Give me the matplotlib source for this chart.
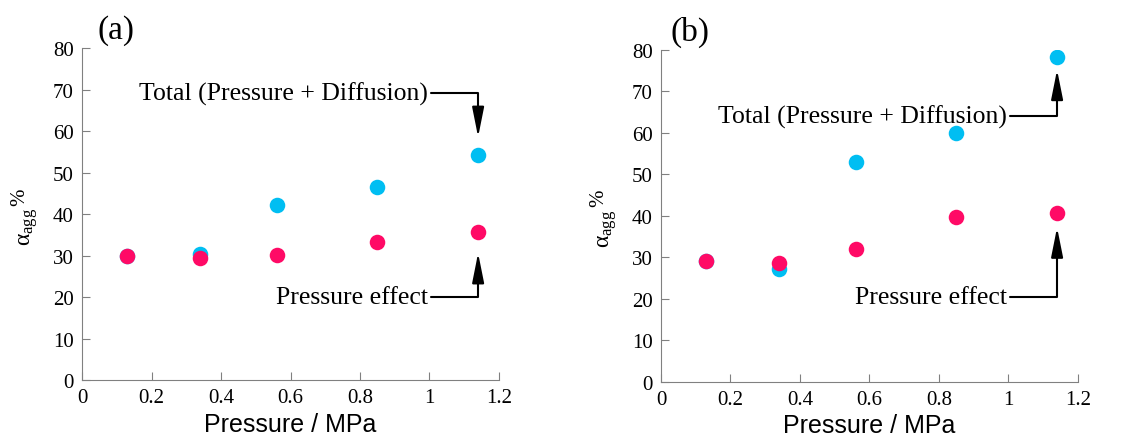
import matplotlib
matplotlib.use('Agg')
import matplotlib.pyplot as plt

plt.rcParams['font.family'] = ['Liberation Serif', 'DejaVu Serif']
plt.rcParams['mathtext.fontset'] = 'custom'
plt.rcParams['mathtext.rm'] = 'Liberation Serif'
plt.rcParams['mathtext.it'] = 'Liberation Serif:italic'

# data
pressure = [0.13, 0.34, 0.56, 0.85, 1.14]
total_a = [30.0, 30.4, 42.3, 46.5, 54.2]
press_a = [30.0, 29.5, 30.1, 33.3, 35.7]
total_b = [29.2, 27.1, 53.1, 59.9, 78.4]
press_b = [29.2, 28.6, 32.1, 39.7, 40.8]

xticks = [0, 0.2, 0.4, 0.6, 0.8, 1.0, 1.2]
xtick_labels = ['0', '0.2', '0.4', '0.6', '0.8', '1', '1.2']
yticks = [0, 10, 20, 30, 40, 50, 60, 70, 80]

panel_labels = ['(a)', '(b)']
total_text = 'Total (Pressure + Diffusion)'
press_text = 'Pressure effect'

# annotation anchors: (text end x, line y, arrow tip y)
total_ann = [(1.005, 69.2, 58.6), (1.005, 64.1, 75.2)]
press_ann = [(1.005, 20.0, 30.6), (1.005, 20.5, 37.2)]

cyan = '#00bef2'
pink = '#ff0a66'
gray = '#808080'

fig = plt.figure(figsize=(11.33, 4.39), dpi=100)
ax_a = fig.add_axes([0.0724, 0.132, 0.368, 0.756])
ax_b = fig.add_axes([0.5834, 0.128, 0.368, 0.756])

panels = [(ax_a, total_a, press_a), (ax_b, total_b, press_b)]

for i, (ax, tot, prs) in enumerate(panels):
    ax.scatter(pressure, tot, s=125, color=cyan, linewidths=0, zorder=3)
    ax.scatter(pressure, prs, s=125, color=pink, linewidths=0, zorder=4)

    ax.set_xlim(0, 1.2)
    ax.set_ylim(0, 80)
    ax.set_xticks(xticks)
    ax.set_xticklabels(xtick_labels)
    ax.set_yticks(yticks)

    for s in ['top', 'right']:
        ax.spines[s].set_visible(False)
    for s in ['left', 'bottom']:
        ax.spines[s].set_color(gray)
        ax.spines[s].set_linewidth(0.8)
    ax.tick_params(direction='in', length=6, width=0.8, color=gray,
                   labelsize=15)
    ax.tick_params(axis='x', pad=6)
    ax.tick_params(axis='y', pad=6)

    ax.set_xlabel('Pressure / MPa', family='Liberation Sans', fontsize=18,
                  labelpad=3)

    # y label: alpha_agg with a raised %
    ax.text(-0.127, 0.465, r'$\mathrm{α}_{\mathrm{agg}}$', rotation=90,
            ha='center', va='center', fontsize=17, transform=ax.transAxes)
    ax.text(-0.150, 0.555, '%', rotation=90, ha='center', va='center',
            fontsize=15, transform=ax.transAxes)

    ax.text(0.036 if i == 0 else 0.022, 1.03, panel_labels[i],
            transform=ax.transAxes, fontsize=24, va='baseline')

    for (xt, yl, ytip), txt in [(total_ann[i], total_text),
                                 (press_ann[i], press_text)]:
        ax.text(xt - 0.01, yl, txt, ha='right', va='center', fontsize=18.5)
        ax.annotate('', xy=(pressure[-1], ytip), xytext=(xt, yl),
                    arrowprops=dict(arrowstyle='-|>,head_length=1.0,head_width=0.2',
                                    connectionstyle='angle,angleA=0,angleB=90,rad=0',
                                    color='k', lw=1.5, shrinkA=0, shrinkB=0,
                                    mutation_scale=18))

fig.savefig('out.png', dpi=100)
